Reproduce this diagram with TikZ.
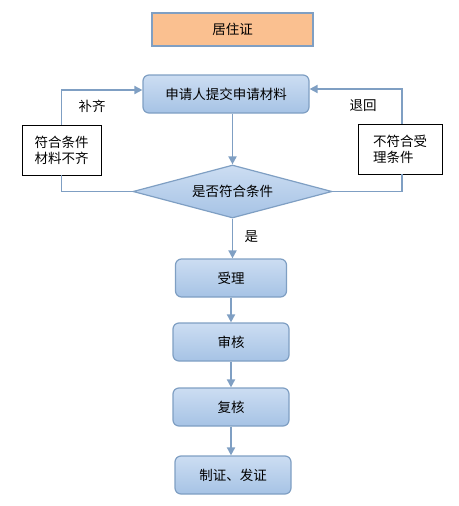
\documentclass[tikz,border=0pt]{standalone}
\usepackage{fontspec}
\setmainfont{Noto Sans CJK SC}
\usepackage{tikz}
\usetikzlibrary{shapes.geometric,arrows.meta,positioning,calc}
\definecolor{flowline}{HTML}{7F9FC3}
\definecolor{flowtop}{HTML}{CCDDF2}
\definecolor{flowbot}{HTML}{A6C3E5}
\definecolor{titlefill}{HTML}{FAC090}

\begin{document}
\begin{tikzpicture}[
    x=1pt, y=-1pt,
    every node/.style={align=center, font=\fontsize{13.5}{16}\selectfont},
    stepbox/.style={draw=flowline, line width=1.2pt, rounded corners=6pt, top color=flowtop, bottom color=flowbot, minimum height=38pt, inner sep=0pt},
    notebox/.style={draw=black, line width=0.8pt, fill=white, minimum height=50pt, align=left, inner sep=0pt},
    arrow/.style={-{Triangle[length=8pt, width=8pt]}, line width=1.8pt, flowline},
    link/.style={line width=1.8pt, flowline}
]
    \useasboundingbox (0,0) rectangle (458,506);
    \node[draw=flowline, line width=1.5pt, fill=titlefill, minimum width=161pt, minimum height=33pt, inner sep=0pt] (title) at (232.5,29.5) {居住证};
    \node[stepbox, minimum width=166pt] (apply) at (226,94) {申请人提交申请材料};
    \node[diamond, shape aspect=3.75, draw=flowline, line width=1.2pt, top color=flowtop, bottom color=flowbot, minimum width=199pt, minimum height=53pt, inner sep=0pt] (check) at (232.5,191.5) {是否符合条件};
    \node[notebox, minimum width=79pt] (lack) at (61.5,150) {符合条件\\材料不齐};
    \node[notebox, minimum width=84pt] (reject) at (400,149) {不符合受\\理条件};
    \node[stepbox, minimum width=111pt] (accept) at (231,278) {受理};
    \node[stepbox, minimum width=116pt] (review) at (231,342) {审核};
    \node[stepbox, minimum width=116pt] (recheck) at (231,407) {复核};
    \node[stepbox, minimum width=116pt] (issue) at (233,475) {制证、发证};

    \draw[arrow] (apply.south -| check.north) -- (check.north);
    \draw[link] (check.west) -| (lack.south);
    \draw[arrow] (lack.north) |- node[pos=0.69, below=6pt, black] {补齐} ([yshift=4pt]apply.west);
    \draw[link] (check.east) -| ([xshift=2pt]reject.south);
    \draw[arrow] ([xshift=2pt]reject.north) |- node[pos=0.71, below=6pt, black] {退回} ([yshift=5pt]apply.east);
    \draw[arrow] (check.south) -- node[pos=0.45, right=8pt, black] {是} (check.south |- accept.north);
    \draw[arrow] (accept.south) -- (accept.south |- review.north);
    \draw[arrow] (review.south) -- (review.south |- recheck.north);
    \draw[arrow] (recheck.south) -- (recheck.south |- issue.north);
\end{tikzpicture}
\end{document}
